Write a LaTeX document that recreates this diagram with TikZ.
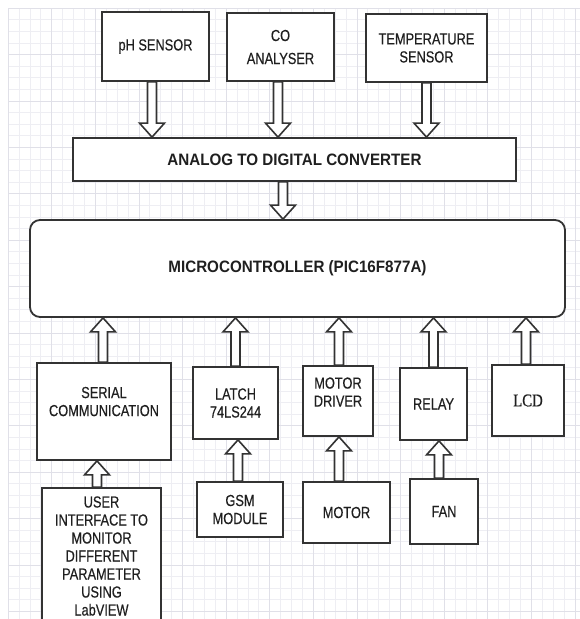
\documentclass[tikz,border=0pt]{standalone}
\usepackage{fontspec}
\setmainfont{Liberation Sans}[FakeStretch=0.8, FakeBold=0.35, BoldFeatures={FakeStretch=0.92, FakeBold=0}]
\newfontfamily\lcdfont{Liberation Serif}[FakeStretch=0.82, FakeBold=0.6]
\usetikzlibrary{calc}
\pgfdeclarelayer{back}
\pgfsetlayers{back,main}
\definecolor{ln}{HTML}{333333}
\definecolor{gridminor}{HTML}{EEEEF3}
\definecolor{gridmajor}{HTML}{E0E0E8}
\tikzset{
  box/.style={draw=ln, line width=1.8pt, fill=white, align=center, inner sep=0pt,
    font=\fontsize{16}{18}\selectfont, text=black!88},
  bigtext/.style={font=\fontsize{16.5}{18}\selectfont\bfseries},
  lcdtext/.style={font=\fontsize{18}{20}\selectfont\lcdfont},
  blk/.style={draw=ln, line width=1.6pt, fill=white, line join=miter},
}
\newcommand{\barrow}[2]{%
  \draw[blk] let \p1=#1, \p2=#2, \n1={ifthenelse(\y1>\y2,1,-1)} in
   ({\x2-4.5pt},\y1) -- ({\x2-4.5pt},{\y2+\n1*14pt}) -- ({\x2-12.5pt},{\y2+\n1*14pt})
   -- (\x2,\y2) -- ({\x2+12.5pt},{\y2+\n1*14pt}) -- ({\x2+4.5pt},{\y2+\n1*14pt})
   -- ({\x2+4.5pt},\y1) -- cycle;}
\begin{document}
\begin{tikzpicture}[x=1pt, y=-1pt]
\useasboundingbox (0,0) rectangle (580,619);
\clip (0,0) rectangle (580,619);
\begin{pgfonlayer}{back}
  \fill[white] (0,0) rectangle (580,619);
  \foreach \i in {0,...,53} {
    \draw[gridminor, line width=0.6pt] ({8+\i*10.9},8) -- ({8+\i*10.9},619);
    \draw[gridminor, line width=0.6pt] (8,{8+\i*11.6}) -- (580,{8+\i*11.6});
  }
  \foreach \i in {0,...,13} {
    \draw[gridmajor, line width=0.6pt] ({8+\i*43.6},8) -- ({8+\i*43.6},619);
    \draw[gridmajor, line width=0.6pt] (8,{8+\i*46.4}) -- (580,{8+\i*46.4});
  }
\end{pgfonlayer}

% top sensors
\node[box, minimum width=107pt, minimum height=69pt] (ph) at (155.5,46.5) {pH SENSOR};
\node[box, minimum width=107pt, minimum height=68pt] (co) at (280.5,47) {CO\\[5pt]ANALYSER};
\node[box, minimum width=121pt, minimum height=68pt] (temp) at (426.5,48) {TEMPERATURE\\SENSOR};
% converter and controller
\node[box, bigtext, minimum width=443pt, minimum height=43pt] (adc) at (294.5,159.5) {ANALOG TO DIGITAL CONVERTER};
\node[box, bigtext, rounded corners=10pt, minimum width=535pt, minimum height=97pt] (mcu) at (297.5,268.5) {MICROCONTROLLER (PIC16F877A)};
% lower blocks
\node[box, minimum width=134pt, minimum height=97pt] (serial) at (104,411.5) {SERIAL\\COMMUNICATION\\[2pt]\mbox{}};
\node[box, minimum width=85pt, minimum height=72pt] (latch) at (235.5,403) {LATCH\\74LS244};
\node[box, minimum width=70pt, minimum height=70pt] (driver) at (338,401) {MOTOR\\DRIVER\\\mbox{}};
\node[box, minimum width=67pt, minimum height=72pt] (relay) at (433.5,404) {RELAY};
\node[box, lcdtext, minimum width=72pt, minimum height=71pt] (lcd) at (528,400.5) {LCD};
\node[box, minimum width=119pt, minimum height=136pt] (ui) at (101.5,556) {USER\\INTERFACE TO\\MONITOR\\DIFFERENT\\PARAMETER\\USING\\LabVIEW};
\node[box, minimum width=86pt, minimum height=55pt] (gsm) at (240,509.5) {GSM\\MODULE};
\node[box, minimum width=87pt, minimum height=61pt] (motor) at (346.5,512.5) {MOTOR};
\node[box, minimum width=68pt, minimum height=65pt] (fan) at (444,511.5) {FAN};

\begin{pgfonlayer}{back}
  \barrow{(ph.south)}{($(ph.south|-adc.north)+(-3.5,0)$)}
  \barrow{(co.south)}{($(co.south|-adc.north)+(-2.5,0)$)}
  \barrow{(temp.south)}{(temp.south|-adc.north)}
  \barrow{(adc.south)}{($(adc.south|-mcu.north)+(-11.5,0)$)}
  \barrow{(serial.north)}{($(serial.north|-mcu.south)+(-1,0)$)}
  \barrow{(latch.north)}{(latch.north|-mcu.south)}
  \barrow{(driver.north)}{($(driver.north|-mcu.south)+(1,0)$)}
  \barrow{(relay.north)}{(relay.north|-mcu.south)}
  \barrow{(lcd.north)}{($(lcd.north|-mcu.south)+(-2,0)$)}
  \barrow{(ui.north)}{($(ui.north|-serial.south)+(-4.5,0)$)}
  \barrow{(gsm.north)}{($(gsm.north|-latch.south)+(-2,0)$)}
  \barrow{(motor.north)}{($(driver.south)+(1,0)$)}
  \barrow{(fan.north)}{($(fan.north|-relay.south)+(-5,0)$)}
\end{pgfonlayer}
\end{tikzpicture}
\end{document}
